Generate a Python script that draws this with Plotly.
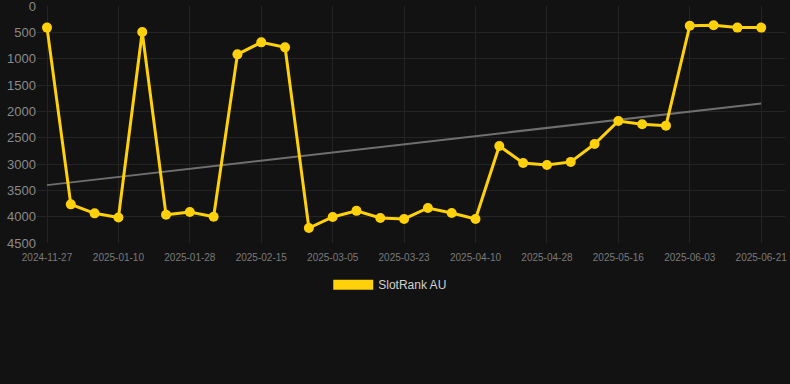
import numpy as np
import plotly.graph_objects as go

dates = [
    "2024-11-27", "2024-12-29", "2025-01-04", "2025-01-10", "2025-01-16", "2025-01-22",
    "2025-01-28", "2025-02-03", "2025-02-09", "2025-02-15", "2025-02-21", "2025-02-27",
    "2025-03-05", "2025-03-11", "2025-03-17", "2025-03-23", "2025-03-29", "2025-04-04",
    "2025-04-10", "2025-04-16", "2025-04-22", "2025-04-28", "2025-05-04", "2025-05-10",
    "2025-05-16", "2025-05-22", "2025-05-28", "2025-06-03", "2025-06-09", "2025-06-15",
    "2025-06-21",
]
rank = [
    410, 3766, 3937, 4015, 494, 3965, 3911, 4000, 918, 690, 785,
    4215, 4006, 3890, 4025, 4044, 3835, 3930, 4044, 2658, 2980,
    3020, 2960, 2620, 2183, 2246, 2272, 375, 367, 410, 410,
]
tick_labels = dates[::3]
y_ticks = [0, 500, 1000, 1500, 2000, 2500, 3000, 3500, 4000, 4500]
series_name = "SlotRank AU"

idx = np.arange(len(rank))
slope, intercept = np.polyfit(idx, rank, 1)
trend = slope * idx + intercept

GOLD = "#FFD10A"

fig = go.Figure()
fig.add_trace(go.Scatter(
    x=dates, y=trend, mode="lines",
    line=dict(color="#6f6f6f", width=2),
    showlegend=False, hoverinfo="skip",
))
fig.add_trace(go.Scatter(
    x=dates, y=rank, mode="lines+markers",
    line=dict(color=GOLD, width=3),
    marker=dict(color=GOLD, size=10),
    showlegend=False, name=series_name,
))
fig.add_trace(go.Scatter(
    x=[None], y=[None], mode="lines",
    line=dict(color=GOLD, width=11),
    name=series_name, showlegend=True,
))

fig.update_layout(
    width=790, height=384,
    paper_bgcolor="#121212", plot_bgcolor="#121212",
    margin=dict(l=37, r=5, t=6, b=141, autoexpand=False),
    font=dict(family="Liberation Sans, Arial, sans-serif", color="#8a8a8a"),
    showlegend=True,
    legend=dict(
        orientation="h", xref="container", x=0.494, xanchor="center",
        y=-0.115, yanchor="top",
        font=dict(size=12, color="#d0d0d0"), itemwidth=40,
        bgcolor="rgba(0,0,0,0)",
    ),
    xaxis=dict(
        type="category", categoryorder="array", categoryarray=dates,
        range=[-0.42, 31.0], automargin=False,
        tickmode="array", tickvals=tick_labels, ticktext=tick_labels,
        tickfont=dict(size=10, color="#7a7a7a"),
        showgrid=True, gridcolor="#242424", gridwidth=1,
        zeroline=False, showline=False,
        ticks="outside", ticklen=5, tickcolor="rgba(0,0,0,0)",
    ),
    yaxis=dict(
        range=[4500, 0], tickmode="array", tickvals=y_ticks, automargin=False,
        tickfont=dict(size=13, color="#8a8a8a"),
        ticklabeloverflow="allow",
        showgrid=True, gridcolor="#242424", gridwidth=1,
        zeroline=False, showline=False, ticks="",
    ),
)

fig.write_html(
    "out.html",
    config={"displayModeBar": False},
    post_script="document.body.style.margin='0';document.body.style.background='#121212';",
)
